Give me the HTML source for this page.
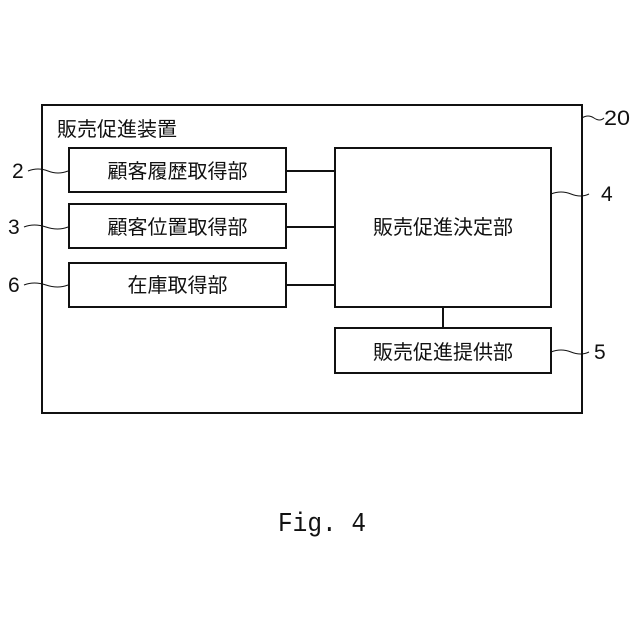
<!DOCTYPE html>
<html><head><meta charset="utf-8"><style>
body{margin:0;background:#fff;}
svg{display:block}
text{font-family:"Liberation Sans","Noto Sans CJK JP",sans-serif;fill:#111;}
</style></head><body>
<svg width="640" height="640" viewBox="0 0 640 640">
<g fill="none" stroke="#111" stroke-width="2">
<rect x="42" y="105" width="540" height="308"/>
<rect x="69" y="148" width="217" height="44"/>
<rect x="69" y="204" width="217" height="44"/>
<rect x="69" y="263" width="217" height="44"/>
<rect x="335" y="148" width="216" height="159"/>
<rect x="335" y="328" width="216" height="45"/>
<path d="M286 171H335M286 227H335M286 285H335M443 307V328"/>
</g>
<g fill="none" stroke="#111" stroke-width="1">
<path d="M582 118q6 -4 12 0t10 0"/>
<path d="M551 194q10 -4 20 0t18 0"/>
<path d="M551 352q10 -4 20 0t18 0"/>
<path d="M28 171q10 -4 20 0t20 0"/>
<path d="M24 227q10 -4 22 0t22 0"/>
<path d="M24 285q10 -4 22 0t22 0"/>
</g>
<g font-size="20">
<text x="57" y="136">販売促進装置</text>
<text x="177.5" y="178" text-anchor="middle">顧客履歴取得部</text>
<text x="177.5" y="234" text-anchor="middle">顧客位置取得部</text>
<text x="177.5" y="292" text-anchor="middle">在庫取得部</text>
<text x="443" y="234" text-anchor="middle">販売促進決定部</text>
<text x="443" y="359" text-anchor="middle">販売促進提供部</text>
</g>
<g font-size="21">
<text x="604" y="125" textLength="26" lengthAdjust="spacingAndGlyphs">20</text>
<text x="601" y="201">4</text>
<text x="594" y="359">5</text>
<text x="12" y="178">2</text>
<text x="8" y="234">3</text>
<text x="8" y="292">6</text>
</g>
<text x="322" y="531" font-size="27" text-anchor="middle" textLength="88" lengthAdjust="spacingAndGlyphs" style="font-family:'Liberation Mono',monospace">Fig. 4</text>
</svg>
</body></html>
